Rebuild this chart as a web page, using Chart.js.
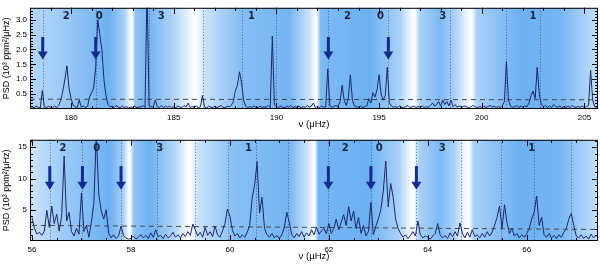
<!DOCTYPE html>
<html>
<head>
<meta charset="utf-8">
<script src="https://cdn.jsdelivr.net/npm/chart.js@4.4.1/dist/chart.umd.min.js"></script>
<style>
    html, body { margin: 0; padding: 0; background: #fff; }
    canvas { display: block; }
</style>
</head>
<body>
<canvas id="topChart" width="600" height="132"></canvas>
<canvas id="bottomChart" width="600" height="132"></canvas>
<script>
// ---- Data: upper panel (nu ~ 178-206 muHz) ----
const topStart = 178.0;
const topStep = 0.1;
const topPsd = [
    0.05, 0.08, 0.04, 0.10, 0.06, 0.03, 0.62, 0.08, 0.05, 0.09,
    0.06, 0.04, 0.10, 0.05, 0.12, 0.30, 0.60, 1.00, 1.45, 0.70,
    0.35, 0.12, 0.08, 0.05, 0.30, 0.06, 0.10, 0.05, 0.08, 0.40,
    0.55, 0.70, 1.40, 3.00, 2.50, 2.00, 1.00, 0.45, 0.15, 0.08,
    0.08, 0.05, 0.12, 0.06, 0.04, 0.10, 0.05, 0.08, 0.03, 0.07,
    0.05, 0.10, 0.04, 0.08, 0.06, 0.12, 0.05, 4.00, 0.10, 0.08,
    0.06, 0.30, 0.08, 0.05, 0.12, 0.04, 0.09, 0.06, 0.10, 0.05,
    0.08, 0.04, 0.10, 0.06, 0.05, 0.12, 0.07, 0.20, 0.05, 0.08,
    0.06, 0.10, 0.05, 0.08, 0.45, 0.07, 0.04, 0.10, 0.06, 0.05,
    0.09, 0.05, 0.08, 0.12, 0.06, 0.04, 0.10, 0.07, 0.12, 0.25,
    0.60, 0.80, 1.25, 0.90, 0.30, 0.10, 0.06, 0.08, 0.05, 0.10,
    0.06, 0.04, 0.10, 0.05, 0.08, 0.06, 0.12, 0.05, 2.45, 0.15,
    0.08, 0.05, 0.10, 0.06, 0.04, 0.09, 0.06, 0.12, 0.05, 0.08,
    0.06, 0.10, 0.04, 0.08, 0.05, 0.12, 0.06, 0.10, 0.20, 0.05,
    0.08, 0.05, 0.10, 0.06, 0.07, 1.35, 0.10, 0.06, 0.09, 0.12,
    0.08, 0.25, 0.80, 0.30, 0.12, 0.35, 1.15, 0.30, 0.10, 0.08,
    0.06, 0.10, 0.05, 0.08, 0.10, 0.35, 0.20, 0.55, 0.40, 0.65,
    1.15, 0.50, 0.30, 0.45, 1.40, 0.20, 0.10, 0.06, 0.08, 0.05,
    0.10, 0.06, 0.04, 0.08, 0.12, 0.05, 0.07, 0.10, 0.05, 0.08,
    0.06, 0.10, 0.05, 0.08, 0.06, 0.12, 0.20, 0.10, 0.15, 0.25,
    0.10, 0.30, 0.15, 0.25, 0.10, 0.30, 0.08, 0.15, 0.06, 0.10,
    0.05, 0.08, 0.10, 0.06, 0.05, 0.09, 0.12, 0.06, 0.05, 0.08,
    0.06, 0.10, 0.05, 0.08, 0.12, 0.06, 0.10, 0.05, 0.08, 0.06,
    0.10, 0.25, 1.60, 0.30, 0.10, 0.06, 0.08, 0.12, 0.05, 0.10,
    0.06, 0.10, 0.08, 0.20, 0.45, 0.60, 0.35, 1.40, 0.50, 0.15,
    0.08, 0.12, 0.06, 0.10, 0.05, 0.15, 0.08, 0.06, 0.10, 0.05,
    0.08, 0.06, 0.10, 0.05, 0.12, 0.07, 0.05, 0.09, 0.06, 0.10,
    0.05, 0.08, 0.12, 1.30, 0.30, 0.08, 0.05
];
const topThreshold = [[178.0, 0.33], [205.66, 0.31]];
const topXTicks = [180, 185, 190, 195, 200, 205];
const topYTicks = [0.5, 1.0, 1.5, 2.0, 2.5, 3.0];
const topDotted = [178.62, 181.2, 183.78, 186.44, 188.32, 190.0, 192.53, 195.45, 198.44, 201.17, 202.82];
const topArrows = [178.62, 181.2, 192.53, 195.45];
const topModeFreqs = [179.76, 181.37, 184.39, 188.78, 193.46, 195.07, 198.1, 202.49];
const topModeLabels = ["2", "0", "3", "1", "2", "0", "3", "1"];
const topBandFreqs = [178.0, 179.41, 181.85, 182.59, 182.88, 182.98, 183.12, 183.8, 185.02, 185.9, 186.1, 186.49, 188.2,
    190.63, 191.61, 191.95, 192.15, 194.54, 196.0, 196.59, 196.73, 196.98, 197.95, 198.68, 199.32, 199.51, 199.76,
    201.85, 203.8, 205.66];
const topBandLevels = [0.45, 0.55, 0.85, 0.5, 0.1, 0.0, 0.65, 0.8, 0.45, 0.05, 0.0, 0.3, 0.7,
    0.8, 0.3, 0.0, 0.75, 0.85, 0.5, 0.05, 0.0, 0.5, 0.75, 0.5, 0.1, 0.0, 0.5,
    0.85, 0.8, 0.35];

// ---- Data: lower panel (nu ~ 56-67.5 muHz) ----
const bottomStart = 56.0;
const bottomStep = 0.05;
const bottomPsd = [
    3.8, 2.0, 1.1, 1.4, 0.9, 1.6, 4.9, 2.2, 5.6, 2.8, 4.3, 1.6, 4.0, 13.6, 3.2, 4.6, 1.5, 0.8, 2.0, 1.1,
    7.7, 1.5, 2.5, 0.6, 3.0, 6.0, 17.0, 7.5, 4.8, 3.5, 5.0, 1.2, 0.5, 1.0, 0.4, 0.8, 2.4, 0.9, 0.5, 0.3,
    0.4, 0.8, 0.3, 0.6, 1.0, 0.5, 0.9, 0.4, 1.3, 0.6, 1.8, 0.7, 0.9, 0.4, 1.1, 0.5, 0.8, 1.4, 0.6, 1.0,
    0.5, 1.2, 0.7, 1.5, 0.9, 2.7, 1.8, 0.8, 1.4, 0.6, 2.2, 0.9, 1.5, 0.7, 2.4, 1.0, 0.6, 1.6, 2.8, 5.1,
    4.0, 1.8, 0.8, 1.2, 0.5, 1.0, 0.6, 1.4, 2.5, 6.8, 9.0, 12.7, 4.5, 7.0, 2.0, 1.0, 0.6, 1.2, 0.5, 0.9,
    0.4, 1.0, 2.2, 4.6, 3.0, 1.0, 0.5, 1.2, 0.7, 1.5, 0.6, 1.3, 0.8, 1.8, 1.0, 2.2, 1.1, 1.6, 2.0, 1.2,
    2.8, 1.2, 2.0, 3.5, 1.8, 3.0, 4.2, 2.5, 5.5, 3.2, 4.8, 2.0, 3.8, 1.2, 2.5, 0.8, 1.5, 6.2, 1.0, 2.4,
    3.5, 5.0, 8.0, 12.8, 5.5, 9.2, 7.0, 3.5, 2.0, 1.2, 0.6, 1.0, 0.4, 0.9, 1.5, 0.8, 3.2, 1.0, 0.5, 0.8,
    0.6, 0.3, 0.8, 1.2, 2.8, 1.0, 0.5, 0.9, 0.4, 1.3, 0.7, 1.5, 0.8, 2.9, 1.2, 0.5, 1.4, 0.6, 1.8, 0.7,
    1.0, 0.5, 1.2, 0.6, 1.5, 0.8, 1.4, 2.5, 3.8, 5.6, 2.0, 5.8, 3.0, 1.2, 2.0, 0.8, 1.2, 0.5, 1.0, 0.6,
    1.2, 2.0, 3.5, 4.6, 7.2, 2.5, 3.8, 1.0, 0.6, 1.2, 0.5, 0.9, 0.4, 1.0, 0.6, 1.4, 2.0, 3.5, 4.4, 2.5,
    0.8, 0.5, 1.0, 0.4, 0.8, 0.3, 1.1, 0.5, 0.9, 0.6
];
const bottomThreshold = [[56.0, 2.5], [67.44, 1.85]];
const bottomXTicks = [56, 58, 60, 62, 64, 66];
const bottomYTicks = [5, 10, 15];
const bottomDotted = [56.36, 57.02, 57.8, 58.52, 59.29, 59.97, 60.52, 61.18, 61.99, 62.85, 63.77, 64.67, 65.48, 66.14, 66.89];
const bottomArrows = [56.36, 57.02, 57.8, 61.99, 62.85, 63.77];
const bottomModeFreqs = [56.625, 57.31, 58.58, 60.375, 62.33, 63.02, 64.29, 66.1];
const bottomModeLabels = ["2", "0", "3", "1", "2", "0", "3", "1"];
const bottomBandFreqs = [56.0, 56.56, 57.57, 57.85, 57.94, 57.98, 58.06, 58.38, 58.88, 59.13, 59.19, 59.35, 60.09,
    61.2, 61.56, 61.71, 61.79, 62.81, 63.42, 63.66, 63.72, 63.82, 64.23, 64.53, 64.75, 64.83, 64.93,
    65.84, 66.65, 67.44];
const bottomBandLevels = [0.3, 0.55, 0.85, 0.5, 0.1, 0.0, 0.65, 0.85, 0.45, 0.05, 0.0, 0.3, 0.7,
    0.8, 0.3, 0.0, 0.8, 0.85, 0.5, 0.05, 0.0, 0.5, 0.75, 0.5, 0.1, 0.0, 0.5,
    0.85, 0.8, 0.35];

const FONT = "'Liberation Sans', Arial, sans-serif";
const BAND_DEEP = [82, 163, 240];

// Mischt Weiss mit dem Bandblau je nach Intensitaet
function bandColor(level) {
    const c = BAND_DEEP.map(v => Math.round(255 + (v - 255) * level));
    return `rgb(${c[0]}, ${c[1]}, ${c[2]})`;
}

// Hintergrund: horizontaler Verlauf, Stopps ueber die x-Skala platziert
const bandPlugin = {
    id: "bands",
    beforeDatasetsDraw(chart, args, opts) {
        const { ctx, chartArea: a, scales: { x } } = chart;
        const g = ctx.createLinearGradient(a.left, 0, a.right, 0);
        opts.freqs.forEach((f, i) => {
            const p = (x.getPixelForValue(f) - a.left) / (a.right - a.left);
            g.addColorStop(Math.min(1, Math.max(0, p)), bandColor(opts.levels[i]));
        });
        ctx.save();
        ctx.fillStyle = g;
        ctx.fillRect(a.left, a.top, a.width, a.height);

        // gepunktete Linien der Moden
        ctx.strokeStyle = "rgba(60, 70, 95, 0.75)";
        ctx.lineWidth = 1;
        ctx.setLineDash([1, 2]);
        opts.dotted.forEach(f => {
            const px = Math.round(x.getPixelForValue(f)) + 0.5;
            ctx.beginPath();
            ctx.moveTo(px, a.top);
            ctx.lineTo(px, a.bottom);
            ctx.stroke();
        });
        ctx.restore();
    }
};

// Pfeile und Modenbeschriftung ueber dem Spektrum
const markPlugin = {
    id: "marks",
    afterDatasetsDraw(chart, args, opts) {
        const { ctx, chartArea: a, scales: { x, y } } = chart;
        ctx.save();
        ctx.fillStyle = "#142c8e";
        opts.arrows.forEach(f => {
            const px = x.getPixelForValue(f);
            const y0 = y.getPixelForValue(opts.arrowSpan[0]);
            const y1 = y.getPixelForValue(opts.arrowSpan[1]);
            ctx.fillRect(px - 1.5, y0, 3, y1 - y0 - 7);
            ctx.beginPath();
            ctx.moveTo(px - 5, y1 - 8);
            ctx.lineTo(px + 5, y1 - 8);
            ctx.lineTo(px, y1);
            ctx.closePath();
            ctx.fill();
        });

        ctx.fillStyle = "#1b2440";
        ctx.font = "bold 10px 'DejaVu Sans', sans-serif";
        ctx.textAlign = "center";
        ctx.textBaseline = "middle";
        opts.modeFreqs.forEach((f, i) => {
            ctx.fillText(opts.modeLabels[i], x.getPixelForValue(f), a.top + 9);
        });
        ctx.restore();
    }
};

// Rahmen mit nach innen zeigenden Haupt- und Nebenticks
const framePlugin = {
    id: "frame",
    afterDraw(chart, args, opts) {
        const { ctx, chartArea: a, scales: { x, y } } = chart;
        ctx.save();
        ctx.strokeStyle = "#000";
        ctx.lineWidth = 1;
        ctx.strokeRect(a.left + 0.5, a.top + 0.5, a.width - 1, a.height - 1);

        const tick = (px, py, dx, dy) => {
            ctx.beginPath();
            ctx.moveTo(px, py);
            ctx.lineTo(px + dx, py + dy);
            ctx.stroke();
        };
        const drawX = (v, len) => {
            const px = Math.round(x.getPixelForValue(v)) + 0.5;
            tick(px, a.bottom, 0, -len);
            tick(px, a.top, 0, len);
        };
        const drawY = (v, len) => {
            const py = Math.round(y.getPixelForValue(v)) + 0.5;
            tick(a.left, py, len, 0);
            tick(a.right, py, -len, 0);
        };
        for (let v = Math.ceil(x.min / opts.minorX) * opts.minorX; v <= x.max; v += opts.minorX) drawX(v, 3);
        for (let v = opts.minorY; v < y.max; v += opts.minorY) drawY(v, 3);
        opts.xTicks.forEach(v => drawX(v, 6));
        opts.yTicks.forEach(v => drawY(v, 6));
        ctx.restore();
    }
};

/**
 * Baut ein Spektrum-Panel mit Chart.js
 */
function createSpectrumChart(canvasId, p) {
    const points = p.psd.map((v, i) => ({ x: +(p.start + i * p.step).toFixed(3), y: v }));
    const ctx = document.getElementById(canvasId).getContext("2d");

    return new Chart(ctx, {
        type: "line",
        data: {
            datasets: [
                {
                    data: points,
                    borderColor: "#1d2769",
                    borderWidth: 1,
                    pointRadius: 0,
                    tension: 0
                },
                {
                    data: p.threshold.map(t => ({ x: t[0], y: t[1] })),
                    borderColor: "#4a4a4a",
                    borderWidth: 1,
                    borderDash: [5, 4],
                    pointRadius: 0
                }
            ]
        },
        options: {
            responsive: false,
            animation: false,
            devicePixelRatio: 1,
            layout: { padding: { top: 2, right: 2, left: 0, bottom: 0 } },
            plugins: {
                legend: { display: false },
                tooltip: { enabled: false },
                bands: { freqs: p.bandFreqs, levels: p.bandLevels, dotted: p.dotted },
                marks: { arrows: p.arrows, arrowSpan: p.arrowSpan, modeFreqs: p.modeFreqs, modeLabels: p.modeLabels },
                frame: { xTicks: p.xTicks, yTicks: p.yTicks, minorX: p.minorX, minorY: p.minorY }
            },
            scales: {
                x: {
                    type: "linear",
                    min: p.xMin,
                    max: p.xMax,
                    grid: { display: false, drawTicks: false },
                    border: { display: false },
                    ticks: { font: { size: 8, family: FONT }, color: "#000", padding: 4, maxRotation: 0, autoSkip: false },
                    title: { display: true, text: "ν (μHz)", font: { size: 9.5, family: FONT }, color: "#000", padding: { top: 0, bottom: 2 } },
                    afterBuildTicks: s => { s.ticks = p.xTicks.map(v => ({ value: v })); },
                    afterFit: s => { s.height = 23; }
                },
                y: {
                    min: 0,
                    max: p.yMax,
                    grid: { display: false, drawTicks: false },
                    border: { display: false },
                    ticks: {
                        font: { size: 8, family: FONT },
                        color: "#000",
                        padding: 3,
                        callback: v => v.toFixed(p.yDigits)
                    },
                    title: { display: true, text: "PSD (10³ ppm²/μHz)", font: { size: 9, family: FONT }, color: "#000", padding: { top: 1, bottom: 0 } },
                    afterBuildTicks: s => { s.ticks = p.yTicks.map(v => ({ value: v })); },
                    afterFit: s => { s.width = 30; }
                }
            }
        },
        plugins: [bandPlugin, markPlugin, framePlugin]
    });
}

createSpectrumChart("topChart", {
    psd: topPsd, start: topStart, step: topStep, threshold: topThreshold,
    xMin: 178.0, xMax: 205.66, yMax: 3.4, yDigits: 1, minorX: 1, minorY: 0.1,
    xTicks: topXTicks, yTicks: topYTicks, dotted: topDotted, arrows: topArrows, arrowSpan: [2.42, 1.66],
    modeFreqs: topModeFreqs, modeLabels: topModeLabels, bandFreqs: topBandFreqs, bandLevels: topBandLevels
});

createSpectrumChart("bottomChart", {
    psd: bottomPsd, start: bottomStart, step: bottomStep, threshold: bottomThreshold,
    xMin: 55.96, xMax: 67.44, yMax: 16.2, yDigits: 0, minorX: 0.5, minorY: 1,
    xTicks: bottomXTicks, yTicks: bottomYTicks, dotted: bottomDotted, arrows: bottomArrows, arrowSpan: [12.0, 8.2],
    modeFreqs: bottomModeFreqs, modeLabels: bottomModeLabels, bandFreqs: bottomBandFreqs, bandLevels: bottomBandLevels
});
</script>
</body>
</html>
